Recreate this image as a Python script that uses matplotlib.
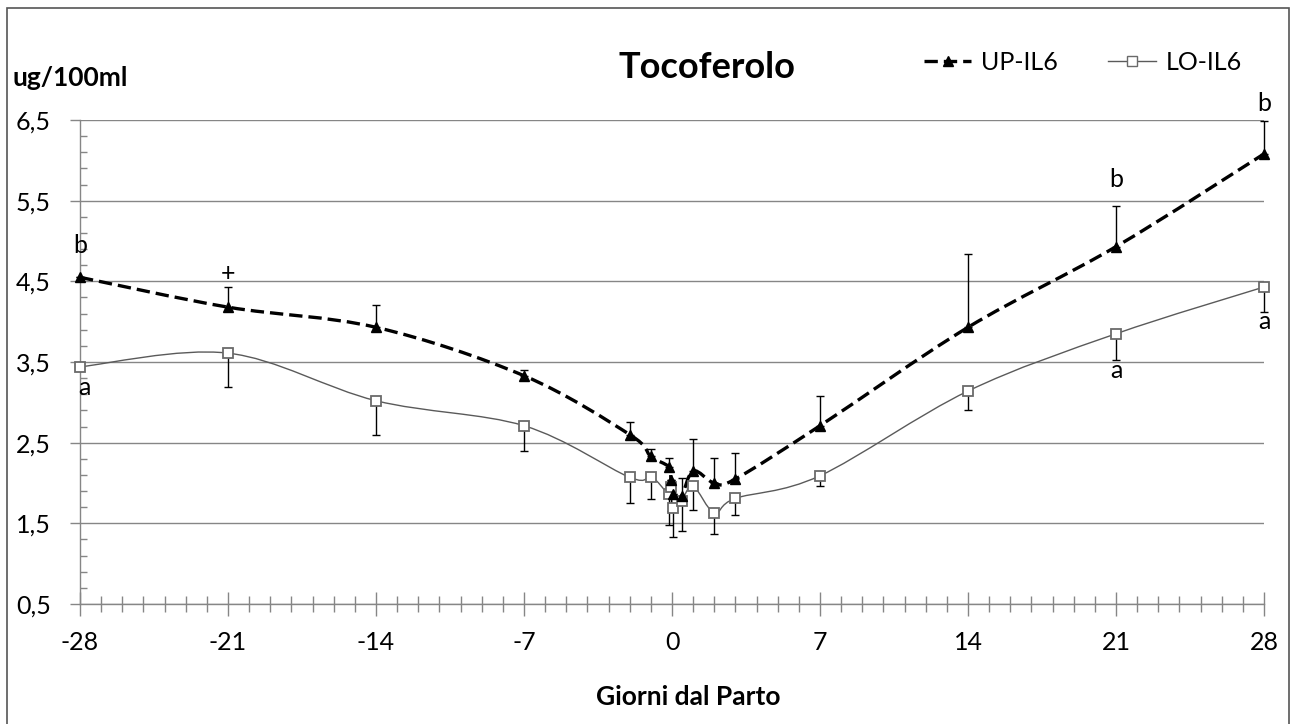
import matplotlib
matplotlib.use("Agg")
import matplotlib.pyplot as plt
import numpy as np
from matplotlib.path import Path
from matplotlib.patches import PathPatch, Rectangle
from matplotlib.lines import Line2D
from matplotlib.ticker import MultipleLocator, FixedLocator, FuncFormatter

plt.rcParams['font.family'] = ['Lato', 'DejaVu Sans']
plt.rcParams['axes.unicode_minus'] = False

# sampling days relative to calving
days = [-28, -21, -14, -7, -2, -1, -0.15, -0.05, 0.05, 0.45, 1, 2, 3, 7, 14, 21, 28]

# tocopherol, ug/100ml
up_il6 = [4.55, 4.18, 3.93, 3.33, 2.60, 2.33, 2.20, 2.04, 1.86, 1.84, 2.15, 2.00, 2.05, 2.71, 3.93, 4.93, 6.08]
up_err = [0.00, 0.25, 0.28, 0.07, 0.16, 0.09, 0.11, 0.00, 0.00, 0.22, 0.40, 0.31, 0.32, 0.37, 0.91, 0.50, 0.41]
lo_il6 = [3.44, 3.61, 3.02, 2.71, 2.07, 2.08, 1.86, 1.95, 1.69, 1.78, 1.96, 1.63, 1.81, 2.09, 3.14, 3.85, 4.43]
lo_err = [0.00, 0.42, 0.42, 0.31, 0.32, 0.28, 0.38, 0.30, 0.36, 0.37, 0.29, 0.26, 0.21, 0.13, 0.23, 0.33, 0.31]

x_ticks = [-28, -21, -14, -7, 0, 7, 14, 21, 28]
y_ticks = [0.5, 1.5, 2.5, 3.5, 4.5, 5.5, 6.5]

# significance letters: (day, value, text)
letters = [(-28, 4.95, 'b'), (-21, 4.60, '+'), (21, 5.76, 'b'), (28, 6.71, 'b'),
           (-27.8, 3.18, 'a'), (21, 3.39, 'a'), (28, 4.00, 'a')]


def smooth_path(x, y):
    # Catmull-Rom style bezier through the points
    pts = np.column_stack([x, y]).astype(float)
    n = len(pts)
    verts = [pts[0]]
    codes = [Path.MOVETO]
    for i in range(n - 1):
        p0 = pts[i - 1] if i > 0 else pts[i]
        p1 = pts[i]
        p2 = pts[i + 1]
        p3 = pts[i + 2] if i + 2 < n else pts[i + 1]
        verts += [p1 + (p2 - p0) / 6, p2 - (p3 - p1) / 6, p2]
        codes += [Path.CURVE4] * 3
    return Path(verts, codes)


W, H = 1290, 724
fig = plt.figure(figsize=(W / 100, H / 100), dpi=100)
ax = fig.add_axes([80 / W, 1 - 604 / H, (1264 - 80) / W, (604 - 120) / H])

axis_grey = '#868686'

# lines
ax.add_patch(PathPatch(smooth_path(days, lo_il6), fill=False, edgecolor='#5a5a5a',
                       lw=1.0, zorder=2))
ax.add_patch(PathPatch(smooth_path(days, up_il6), fill=False, edgecolor='black',
                       lw=2.4, linestyle=(0, (4, 1.8)), zorder=3))

# error bars (one-sided)
zeros = np.zeros(len(days))
ax.errorbar(days, up_il6, yerr=[zeros, up_err], fmt='none', ecolor='black',
            elinewidth=1, capsize=3, capthick=1, zorder=4, clip_on=False)
ax.errorbar(days, lo_il6, yerr=[lo_err, zeros], fmt='none', ecolor='black',
            elinewidth=1, capsize=3, capthick=1, zorder=4, clip_on=False)

# markers
ax.plot(days, lo_il6, linestyle='none', marker='s', markersize=7.5,
        markerfacecolor='white', markeredgecolor='#6a6a6a', markeredgewidth=1.3,
        zorder=5, clip_on=False)
ax.plot(days, up_il6, linestyle='none', marker='^', markersize=6.5,
        color='black', zorder=6, clip_on=False)

for d, v, t in letters:
    ax.text(d, v, t, ha='center', va='center', fontsize=18, clip_on=False)

ax.set_xlim(-28, 28)
ax.set_ylim(0.5, 6.5)

ax.xaxis.set_major_locator(FixedLocator(x_ticks))
ax.xaxis.set_minor_locator(MultipleLocator(1))
ax.yaxis.set_major_locator(FixedLocator(y_ticks))
ax.yaxis.set_minor_locator(FixedLocator(np.arange(0.7, 6.5, 0.2)))
ax.yaxis.set_major_formatter(FuncFormatter(lambda v, p: f'{v:.1f}'.replace('.', ',')))

ax.tick_params(axis='x', which='major', direction='inout', length=17, width=1,
               color=axis_grey, labelsize=18, pad=11)
ax.tick_params(axis='x', which='minor', direction='inout', length=12, width=1,
               color=axis_grey)
ax.tick_params(axis='y', which='major', direction='out', length=7, width=1,
               color=axis_grey, labelsize=18, pad=14)
ax.tick_params(axis='y', which='minor', direction='in', length=5, width=1,
               color=axis_grey)

ax.yaxis.grid(True, which='major', color=axis_grey, lw=1)
ax.set_axisbelow(True)
for side in ('top', 'right'):
    ax.spines[side].set_visible(False)
for side in ('left', 'bottom'):
    ax.spines[side].set_color(axis_grey)
    ax.spines[side].set_linewidth(1)

fig.text(707 / W, 1 - 68 / H, 'Tocoferolo', ha='center', va='center',
         fontsize=26, fontweight='bold')
fig.text(12 / W, 1 - 78 / H, 'ug/100ml', ha='left', va='center',
         fontsize=19, fontweight='bold')
fig.text(688 / W, 1 - 697 / H, 'Giorni dal Parto', ha='center', va='center',
         fontsize=19, fontweight='bold')

handles = [
    Line2D([], [], color='black', lw=2.4, linestyle=(0, (4, 1.8)), marker='^',
           markersize=6.5),
    Line2D([], [], color='#5a5a5a', lw=1.0, marker='s', markersize=7.5,
           markerfacecolor='white', markeredgecolor='#6a6a6a'),
]
fig.legend(handles, ['UP-IL6', 'LO-IL6'], loc='center',
           bbox_to_anchor=(1083 / W, 1 - 62 / H), ncol=2, frameon=False,
           fontsize=18, handlelength=1.9, handletextpad=0.4, columnspacing=2.0)

# outer frame
fig.add_artist(Rectangle((7 / W, -0.01), 1 - 7 / W - 1.5 / W, 1.01 - 8 / H,
                         transform=fig.transFigure, fill=False,
                         edgecolor='#555555', lw=1.2))

fig.savefig('out.png', dpi=100)
